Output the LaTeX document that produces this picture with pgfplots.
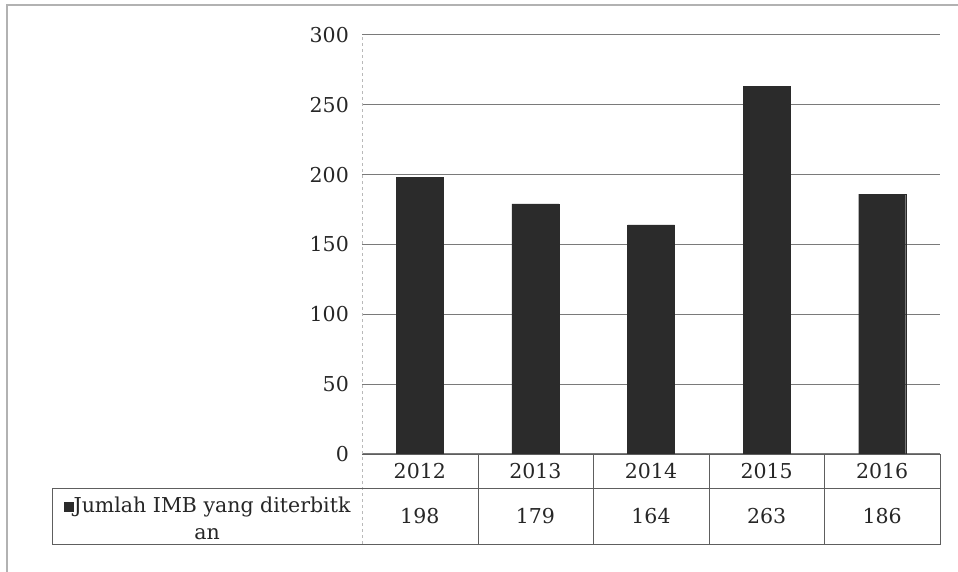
\documentclass[border=0pt]{standalone}
\usepackage{fontspec}
\setmainfont{DejaVu Serif}
\usepackage{pgfplots}
\pgfplotsset{compat=1.18}
\usepackage{pgfplotstable}

\pgfplotstableread{
idx year val
0 2012 198
1 2013 179
2 2014 164
3 2015 263
4 2016 186
}\imbdata

\definecolor{barcol}{HTML}{2B2B2B}
\definecolor{gridcol}{HTML}{7A7A7A}
\definecolor{tabcol}{HTML}{5E5E5E}

\begin{document}
\begin{tikzpicture}[x=1pt,y=1pt,font=\fontsize{20.5}{27}\selectfont]
\path[use as bounding box] (0,0) rectangle (958,572);
% outer frame, cut off at right and bottom in the scan
\draw[gray!60, line width=1.2pt] (7,0) -- (7,567) -- (958,567);
\begin{axis}[
    at={(362pt,118pt)}, anchor=south west,
    scale only axis, width=578pt, height=419pt,
    xmin=-0.5, xmax=4.5, ymin=0, ymax=300,
    ytick={0,50,...,300},
    xtick=data,
    xticklabels from table={\imbdata}{year},
    major tick length=0pt,
    ymajorgrids,
    grid style={gridcol, line width=1pt},
    axis line style={draw=none},
    /pgf/number format/assume math mode=true,
    yticklabel style={anchor=east, inner sep=0pt, xshift=-13pt, text=black!85},
    xticklabel style={anchor=center, inner sep=0pt, yshift=-17pt, text=black!85},
    clip=false,
]
\addplot[ybar, bar width=47pt, fill=barcol, draw=barcol]
    table[x=idx, y=val] {\imbdata};
% values row of the data table
\addplot[draw=none, mark=none, nodes near coords, point meta=explicit,
    nodes near coords style={anchor=center, yshift=-62pt, text=black!85}]
    table[x=idx, y expr=0, meta=val] {\imbdata};
\end{axis}
% left axis line, light and dashed
\draw[gray!55, dashed, line width=0.8pt] (362,28) -- (362,537);
% data table
\draw[tabcol, line width=0.9pt] (362,118) -- (940,118) -- (940,28) -- (52,28) -- (52,84) -- (940,84);
\foreach \xx in {478,593,709,824} \draw[tabcol, line width=0.9pt] (\xx,118) -- (\xx,28);
\node[align=center, text=black!85] at (207,54)
    {\textcolor{barcol}{\rule{10pt}{10pt}}Jumlah IMB yang diterbitk\\an};
\end{tikzpicture}
\end{document}
